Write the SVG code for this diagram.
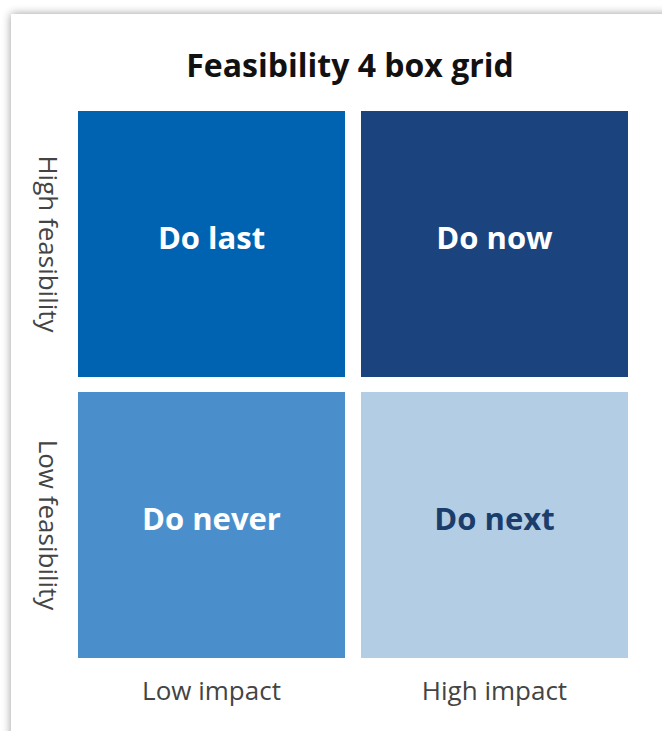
<svg xmlns="http://www.w3.org/2000/svg" width="662" height="731" viewBox="0 0 662 731">
  <defs>
    <filter id="cardShadow" x="-10%" y="-10%" width="120%" height="120%">
      <feGaussianBlur in="SourceAlpha" stdDeviation="5"/>
      <feOffset dx="0" dy="0"/>
      <feComponentTransfer><feFuncA type="linear" slope="0.4"/></feComponentTransfer>
      <feMerge><feMergeNode/><feMergeNode in="SourceGraphic"/></feMerge>
    </filter>
    <style>
      .title { font-family: "Open Sans", "Noto Sans", sans-serif; font-weight: 700; font-size: 32px; fill: #111; }
      .cell { font-family: "Open Sans", "Noto Sans", sans-serif; font-weight: 700; font-size: 31px; fill: #fff; }
      .axis { font-family: "Open Sans", "Noto Sans", sans-serif; font-size: 26px; fill: #444; }
    </style>
  </defs>
  <rect width="662" height="731" fill="#ffffff"/>
  <!-- card -->
  <rect x="11" y="14" width="700" height="760" fill="#ffffff" filter="url(#cardShadow)"/>
  <text class="title" x="350" y="77" text-anchor="middle">Feasibility 4 box grid</text>

  <g id="do-last">
    <rect x="78" y="111" width="267" height="266" fill="#0063b1"/>
    <text class="cell" x="211.5" y="249" text-anchor="middle">Do last</text>
  </g>
  <g id="do-now">
    <rect x="361" y="111" width="267" height="266" fill="#1b437e"/>
    <text class="cell" x="494.5" y="249" text-anchor="middle">Do now</text>
  </g>
  <g id="do-never">
    <rect x="78" y="392" width="267" height="266" fill="#4a8fcc"/>
    <text class="cell" x="211.5" y="530" text-anchor="middle">Do never</text>
  </g>
  <g id="do-next">
    <rect x="361" y="392" width="267" height="266" fill="#b3cde5"/>
    <text class="cell" x="494.5" y="530" text-anchor="middle" style="fill:#1b3d6b">Do next</text>
  </g>

  <g id="axis-labels">
    <text class="axis" transform="translate(39,244) rotate(90)" text-anchor="middle">High feasibility</text>
    <text class="axis" transform="translate(39,525) rotate(90)" text-anchor="middle">Low feasibility</text>
    <text class="axis" x="211.5" y="700" text-anchor="middle">Low impact</text>
    <text class="axis" x="494.5" y="700" text-anchor="middle">High impact</text>
  </g>
  <g id="connectors"/>
</svg>
